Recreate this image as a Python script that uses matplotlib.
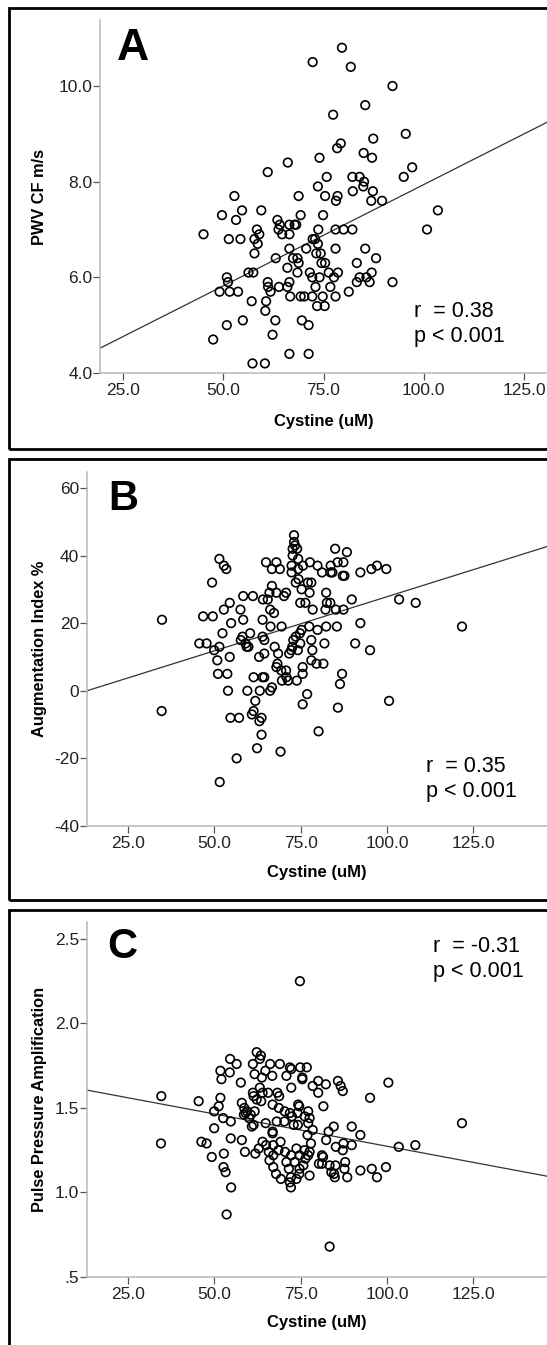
import numpy as np
import matplotlib
matplotlib.use("Agg")
import matplotlib.pyplot as plt
from matplotlib.patches import Rectangle

plt.rcParams['font.family'] = ['Liberation Sans', 'DejaVu Sans']

# ---- Panel A: PWV vs cystine ----
cys_a = [79.6, 72.3, 81.8, 92.2, 85.4, 77.4, 95.5, 87.4, 79.3, 78.4,
         66.1, 85.0, 87.1, 74.0, 97.1, 95.0, 61.1, 75.8, 82.2, 84.0,
         85.1, 84.9, 73.6, 52.8, 68.8, 75.4, 78.5, 78.1, 82.3, 87.3,
         86.9, 89.6, 103.5, 49.7, 54.7, 59.5, 53.2, 69.3, 74.9, 63.5,
         66.5, 67.8, 68.2, 64.1, 100.8, 58.4, 73.7, 78.0, 80.0, 82.2,
         45.1, 51.4, 54.3, 57.8, 59.0, 58.6, 63.8, 64.7, 66.5, 72.3,
         72.9, 73.6, 66.5, 70.7, 78.0, 85.4, 73.2, 74.3, 57.8, 63.1,
         67.4, 68.5, 88.1, 66.0, 68.8, 74.5, 75.4, 83.3, 56.3, 57.5,
         68.5, 71.6, 76.3, 78.6, 87.0, 50.9, 72.2, 74.0, 77.6, 84.0,
         85.7, 51.2, 61.1, 66.5, 83.3, 86.5, 92.2, 61.2, 63.9, 66.0,
         73.0, 76.7, 49.1, 51.6, 53.7, 61.8, 81.3, 66.7, 69.3, 70.2,
         72.2, 74.8, 78.0, 57.1, 60.7, 73.4, 75.3, 60.5, 63.0, 54.9,
         69.6, 71.3, 50.9, 62.3, 47.5, 66.5, 71.3, 57.3, 60.4]
pwv = [10.8, 10.5, 10.4, 10.0, 9.6, 9.4, 9.0, 8.9, 8.8, 8.7,
       8.4, 8.6, 8.5, 8.5, 8.3, 8.1, 8.2, 8.1, 8.1, 8.1,
       8.0, 7.9, 7.9, 7.7, 7.7, 7.7, 7.7, 7.6, 7.8, 7.8,
       7.6, 7.6, 7.4, 7.3, 7.4, 7.4, 7.2, 7.3, 7.3, 7.2,
       7.1, 7.1, 7.1, 7.1, 7.0, 7.0, 7.0, 7.0, 7.0, 7.0,
       6.9, 6.8, 6.8, 6.8, 6.9, 6.7, 7.0, 6.9, 6.9, 6.8,
       6.8, 6.7, 6.6, 6.6, 6.6, 6.6, 6.5, 6.5, 6.5, 6.4,
       6.4, 6.4, 6.4, 6.2, 6.3, 6.3, 6.3, 6.3, 6.1, 6.1,
       6.1, 6.1, 6.1, 6.1, 6.1, 6.0, 6.0, 6.0, 6.0, 6.0,
       6.0, 5.9, 5.9, 5.9, 5.9, 5.9, 5.9, 5.8, 5.8, 5.8,
       5.8, 5.8, 5.7, 5.7, 5.7, 5.7, 5.7, 5.6, 5.6, 5.6,
       5.6, 5.6, 5.6, 5.5, 5.5, 5.4, 5.4, 5.3, 5.1, 5.1,
       5.1, 5.0, 5.0, 4.8, 4.7, 4.4, 4.4, 4.2, 4.2]

# ---- Panel B: augmentation index vs cystine ----
cys_b = [73.1, 73.1, 73.4, 72.7, 74.0, 85.0, 88.4, 72.7, 74.3, 51.5,
         52.8, 53.5, 65.0, 68.0, 66.7, 69.0, 77.7, 79.9, 81.2, 83.7,
         85.7, 87.4, 83.7, 84.2, 87.2, 87.7, 92.3, 95.5, 97.1, 99.8,
         72.4, 72.4, 74.3, 75.7, 49.4, 66.7, 73.6, 74.4, 75.3, 77.1,
         78.1, 70.8, 66.0, 68.0, 77.6, 82.4, 58.4, 61.2, 70.2, 89.8,
         103.5, 108.3, 54.5, 64.1, 65.5, 74.9, 76.4, 82.6, 83.6, 52.8,
         57.6, 66.2, 67.3, 78.5, 82.2, 85.2, 87.4, 46.8, 49.6, 34.9,
         64.0, 58.4, 54.9, 66.3, 69.5, 92.3, 121.7, 77.5, 82.4, 85.5,
         79.9, 75.3, 74.8, 52.4, 60.4, 58.2, 64.0, 73.6, 72.9, 57.7,
         59.1, 64.5, 78.1, 45.7, 47.8, 90.8, 81.9, 74.9, 67.5, 72.6,
         51.5, 59.9, 59.4, 74.2, 72.3, 78.4, 50.0, 95.1, 64.5, 68.5,
         71.7, 63.0, 54.5, 50.9, 78.1, 79.6, 81.6, 68.3, 68.0, 69.4,
         70.8, 75.6, 75.6, 51.1, 53.8, 87.0, 61.4, 64.0, 64.5, 69.6,
         70.9, 71.4, 73.9, 86.4, 66.7, 66.2, 63.2, 54.0, 59.6, 76.9,
         61.9, 100.6, 75.6, 34.8, 85.8, 61.4, 60.9, 63.7, 54.7, 57.2,
         63.1, 63.7, 80.2, 62.4, 69.2, 56.5, 51.6]
aix = [46, 44, 43, 42, 42, 42, 41, 40, 39, 39,
       37, 36, 38, 38, 36, 36, 38, 37, 35, 37,
       38, 38, 35, 35, 34, 34, 35, 36, 37, 36,
       37, 35, 36, 37, 32, 31, 32, 33, 30, 32,
       32, 29, 29, 29, 29, 29, 28, 28, 28, 27,
       27, 26, 26, 27, 27, 26, 26, 26, 26, 24,
       24, 24, 23, 24, 24, 24, 24, 22, 22, 21,
       21, 21, 20, 19, 19, 20, 19, 19, 19, 19,
       18, 18, 17, 17, 17, 16, 16, 16, 15, 15,
       14, 15, 15, 14, 14, 14, 14, 14, 13, 13,
       13, 13, 13, 12, 12, 12, 12, 12, 11, 11,
       11, 10, 10, 9, 9, 8, 8, 8, 7, 6,
       6, 7, 5, 5, 5, 5, 4, 4, 4, 3,
       4, 3, 3, 2, 1, 0, 0, 0, 0, -1,
       -3, -3, -4, -6, -5, -6, -7, -8, -8, -8,
       -9, -13, -12, -17, -18, -20, -27]

# ---- Panel C: pulse pressure amplification vs cystine ----
cys_c = [74.8, 62.3, 63.5, 63.2, 54.6, 56.5, 61.2, 66.2, 69.0, 71.9,
         72.3, 76.8, 74.9, 51.8, 54.5, 64.8, 61.7, 66.8, 70.9, 75.5,
         75.5, 52.1, 57.7, 63.8, 80.1, 82.3, 85.8, 100.4, 72.3, 78.5,
         86.6, 87.2, 63.2, 61.2, 64.0, 65.6, 68.3, 68.8, 80.1, 61.4,
         62.3, 63.6, 34.7, 45.5, 51.8, 95.1, 66.9, 68.7, 74.3, 74.6,
         81.6, 58.0, 51.3, 50.0, 58.7, 59.5, 59.1, 61.7, 58.6, 60.6,
         70.4, 71.9, 74.1, 77.2, 76.2, 77.6, 72.5, 52.6, 60.1, 61.4,
         64.9, 68.1, 70.3, 54.8, 60.9, 73.0, 74.2, 77.2, 78.5, 84.6,
         89.8, 121.7, 50.0, 83.1, 66.9, 66.9, 92.3, 77.0, 54.8, 58.0,
         82.4, 69.2, 34.6, 46.3, 47.8, 64.0, 65.0, 67.1, 78.0, 89.8,
         103.4, 108.2, 87.4, 85.2, 62.9, 65.8, 68.6, 70.5, 73.8, 76.1,
         77.6, 87.2, 58.9, 61.9, 52.8, 72.3, 74.7, 81.2, 81.5, 77.2,
         67.1, 76.4, 66.0, 49.3, 70.9, 80.3, 87.9, 73.3, 75.8, 81.2,
         83.4, 85.1, 52.7, 67.1, 71.6, 74.7, 87.7, 92.3, 95.6, 99.7,
         53.3, 83.9, 84.7, 67.9, 74.6, 72.2, 84.9, 88.5, 97.1, 77.6,
         69.3, 73.8, 71.9, 72.2, 54.9, 53.6, 83.4]
ppa = [2.25, 1.83, 1.81, 1.79, 1.79, 1.76, 1.76, 1.76, 1.76, 1.74,
       1.73, 1.74, 1.74, 1.72, 1.71, 1.72, 1.70, 1.69, 1.69, 1.68,
       1.67, 1.67, 1.65, 1.68, 1.66, 1.64, 1.66, 1.65, 1.62, 1.63,
       1.63, 1.60, 1.62, 1.59, 1.59, 1.59, 1.59, 1.57, 1.59, 1.57,
       1.55, 1.54, 1.57, 1.54, 1.56, 1.56, 1.52, 1.50, 1.52, 1.51,
       1.51, 1.53, 1.51, 1.48, 1.50, 1.48, 1.47, 1.48, 1.46, 1.46,
       1.48, 1.47, 1.47, 1.48, 1.45, 1.44, 1.45, 1.44, 1.44, 1.40,
       1.41, 1.42, 1.42, 1.42, 1.39, 1.40, 1.40, 1.41, 1.37, 1.39,
       1.39, 1.41, 1.38, 1.36, 1.36, 1.35, 1.34, 1.34, 1.32, 1.31,
       1.31, 1.30, 1.29, 1.30, 1.29, 1.30, 1.28, 1.28, 1.29, 1.28,
       1.27, 1.28, 1.29, 1.27, 1.26, 1.24, 1.25, 1.24, 1.26, 1.25,
       1.24, 1.25, 1.24, 1.23, 1.23, 1.22, 1.22, 1.22, 1.21, 1.22,
       1.22, 1.20, 1.19, 1.21, 1.18, 1.17, 1.18, 1.18, 1.16, 1.17,
       1.16, 1.16, 1.15, 1.15, 1.14, 1.14, 1.14, 1.13, 1.14, 1.15,
       1.12, 1.12, 1.11, 1.11, 1.11, 1.09, 1.09, 1.09, 1.09, 1.10,
       1.08, 1.08, 1.06, 1.03, 1.03, 0.87, 0.68]

# fit lines (intercept, slope) and stats as printed
fit_a = (3.70, 0.0424)
fit_b = (-4.23, 0.3204)
fit_c = (1.656, -0.003825)
stats = [("r  = 0.38", "p < 0.001"), ("r  = 0.35", "p < 0.001"), ("r  = -0.31", "p < 0.001")]
ylabels = ["PWV CF m/s", "Augmentation Index %", "Pulse Pressure Amplification"]
xticks = [25, 50, 75, 100, 125]
xticklabels = ["25.0", "50.0", "75.0", "100.0", "125.0"]
yticks_a = [4, 6, 8, 10]
yticklabels_a = ["4.0", "6.0", "8.0", "10.0"]
yticks_b = [-40, -20, 0, 20, 40, 60]
yticklabels_b = ["-40", "-20", "0", "20", "40", "60"]
yticks_c = [0.5, 1.0, 1.5, 2.0, 2.5]
yticklabels_c = [".5", "1.0", "1.5", "2.0", "2.5"]

W, H = 547, 1345
fig = plt.figure(figsize=(W / 100, H / 100), dpi=100)


def fx(px):
    return px / W


def fy(py):
    return 1 - py / H


# panel frames (they run off the right/bottom edge like the original crop)
for top, bottom in [(7.5, 448.5), (458.5, 900), (910, 1400)]:
    fig.patches.append(Rectangle((fx(8.5), fy(bottom)), 1.2, (bottom - top) / H,
                                 transform=fig.transFigure, fill=False,
                                 lw=2.0, edgecolor='black'))


def draw_panel(x, y, fit, box, xlim, ylim, yticks, yticklabels, letter, letter_pos,
               letter_size, stat, stat_pos, ylab, ylab_y, xlab_y):
    left, top, bottom = box
    ax = fig.add_axes([fx(left), fy(bottom), 1 - fx(left), (bottom - top) / H])
    ax.scatter(x, y, s=38, facecolors='none', edgecolors='black', linewidths=1.2, zorder=3)
    xs = np.array(xlim)
    ax.plot(xs, fit[0] + fit[1] * xs, color='#333333', lw=0.9, zorder=2)
    ax.set_xlim(xlim)
    ax.set_ylim(ylim)
    ax.set_xticks(xticks)
    ax.set_xticklabels(xticklabels)
    ax.set_yticks(yticks)
    ax.set_yticklabels(yticklabels)
    for s in ['top', 'right']:
        ax.spines[s].set_visible(False)
    for s in ['left', 'bottom']:
        ax.spines[s].set_color('#b8b8b8')
        ax.spines[s].set_linewidth(1.1)
    ax.tick_params(direction='out', length=5, width=0.9, color='#555555',
                   labelsize=12.5, labelcolor='#222222')
    ax.tick_params(axis='y', pad=0.5)
    ax.tick_params(axis='x', pad=2)
    fig.text(fx(letter_pos[0]), fy(letter_pos[1]), letter, fontsize=letter_size,
             fontweight='bold', va='baseline', ha='left')
    fig.text(fx(stat_pos[0]), fy(stat_pos[1]), stat[0], fontsize=15.5, va='baseline')
    fig.text(fx(stat_pos[0]), fy(stat_pos[1] + 25), stat[1], fontsize=15.5, va='baseline')
    fig.text(fx(40), fy(ylab_y), ylab, rotation=90, fontsize=11.8, fontweight='bold',
             ha='center', va='center')
    fig.text(fx((left + W) / 2), fy(xlab_y), "Cystine (uM)", fontsize=12,
             fontweight='bold', ha='center', va='center')
    return ax


draw_panel(cys_a, pwv, fit_a, (100, 20, 373), (19.3, 130.7), (4.0, 11.38),
           yticks_a, yticklabels_a, "A", (117, 60), 32, stats[0], (414, 317),
           ylabels[0], 197, 422)
draw_panel(cys_b, aix, fit_b, (87, 472, 826), (13.2, 146.3), (-40, 64.7),
           yticks_b, yticklabels_b, "B", (108, 510), 30, stats[1], (426, 772),
           ylabels[1], 649, 872)
draw_panel(cys_c, ppa, fit_c, (87, 922, 1277), (13.2, 146.3), (0.5, 2.6),
           yticks_c, yticklabels_c, "C", (107, 958), 30, stats[2], (433, 952),
           ylabels[2], 1099, 1322)

fig.savefig("out.png", dpi=100)
